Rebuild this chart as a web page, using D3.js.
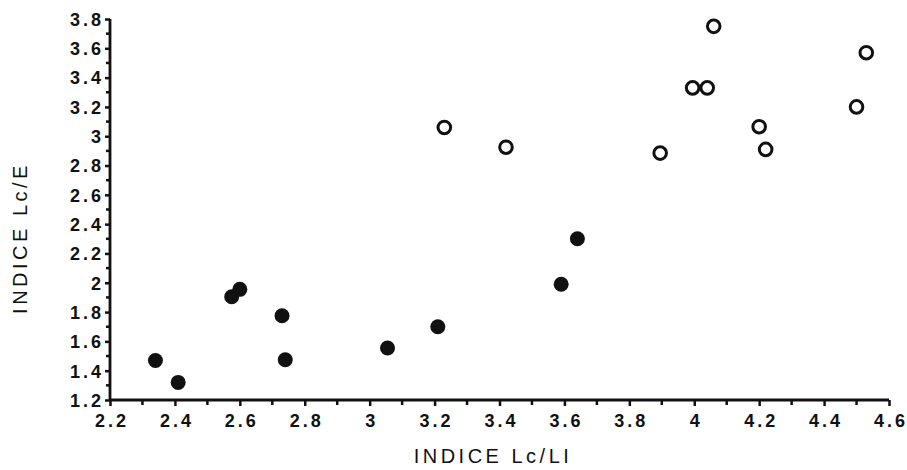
<!DOCTYPE html>
<html><head><meta charset="utf-8">
<script src="https://cdn.jsdelivr.net/npm/d3@7"></script>
<style>body{margin:0;background:#fff}svg{display:block}text{font-family:"Liberation Sans",Arial,sans-serif;fill:#111}</style>
</head><body><svg id="c" width="907" height="470"></svg>
<script>
const filledX = [2.34, 2.41, 2.575, 2.60, 2.73, 2.74, 3.055, 3.21, 3.59, 3.64];
const filledY = [1.47, 1.32, 1.905, 1.955, 1.775, 1.475, 1.555, 1.70, 1.99, 2.30];
const openX = [3.23, 3.42, 3.895, 3.995, 4.04, 4.06, 4.20, 4.22, 4.50, 4.53];
const openY = [3.06, 2.925, 2.885, 3.33, 3.33, 3.75, 3.065, 2.91, 3.20, 3.57];
const xTicks = [2.2, 2.4, 2.6, 2.8, 3.0, 3.2, 3.4, 3.6, 3.8, 4.0, 4.2, 4.4, 4.6];
const yTicks = [1.2, 1.4, 1.6, 1.8, 2.0, 2.2, 2.4, 2.6, 2.8, 3.0, 3.2, 3.4, 3.6, 3.8];
const xTitle = "INDICE Lc/LI";
const yTitle = "INDICE Lc/E";

const svg = d3.select("#c");
const x = d3.scaleLinear().domain([2.2, 4.6]).range([110, 889]);
const y = d3.scaleLinear().domain([1.2, 3.8]).range([400, 19]);
const fmt = d => String(+d.toFixed(1));

const minorX = d3.range(12).map(i => 2.3 + i * 0.2);
const minorY = d3.range(13).map(i => 1.3 + i * 0.2);

// x axis
const gx = svg.append("g").attr("transform", "translate(0,400)");
gx.call(d3.axisBottom(x).tickValues(xTicks).tickFormat(fmt).tickSize(6).tickPadding(8));
minorX.forEach(v => gx.append("line").attr("x1", x(v)).attr("x2", x(v)).attr("y1", 0).attr("y2", 5).attr("stroke", "#111").attr("stroke-width", 2.5));
// y axis
const gy = svg.append("g").attr("transform", "translate(110,0)");
gy.call(d3.axisLeft(y).tickValues(yTicks).tickFormat(fmt).tickSize(5).tickPadding(3));
minorY.forEach(v => gy.append("line").attr("x1", 0).attr("x2", -4).attr("y1", y(v)).attr("y2", y(v)).attr("stroke", "#111").attr("stroke-width", 2.5));

[gx, gy].forEach(g => {
  g.select(".domain").attr("stroke", "#111").attr("stroke-width", 2.8);
  g.selectAll(".tick line").attr("stroke", "#111").attr("stroke-width", 2.5);
  g.selectAll(".tick text").style("font-size", "18px").style("font-weight", "bold").style("letter-spacing", "3px").attr("fill", "#111");
});
gy.select(".domain").attr("d", `M0,${y(3.8)}V${y(1.2)}`);
gx.select(".domain").attr("d", `M${x(2.2)},0H${x(4.6)}`);
gy.selectAll(".tick text").attr("dy", "0.35em").attr("x", -6);
gx.selectAll(".tick text").attr("dx", "1.5px");

// points
svg.append("g").selectAll("circle").data(filledX.map((v, i) => [v, filledY[i]])).join("circle")
  .attr("cx", d => x(d[0])).attr("cy", d => y(d[1])).attr("r", 7.5).attr("fill", "#111");
svg.append("g").selectAll("circle").data(openX.map((v, i) => [v, openY[i]])).join("circle")
  .attr("cx", d => x(d[0])).attr("cy", d => y(d[1])).attr("r", 6.3).attr("fill", "none").attr("stroke", "#111").attr("stroke-width", 3);

// titles
svg.append("text").attr("x", 493).attr("y", 463).attr("text-anchor", "middle")
  .style("font-size", "20px").style("letter-spacing", "3.5px").text(xTitle);
svg.append("text").attr("transform", "translate(27,238) rotate(-90)").attr("text-anchor", "middle")
  .style("font-size", "20px").style("letter-spacing", "3.5px").text(yTitle);
</script></body></html>
